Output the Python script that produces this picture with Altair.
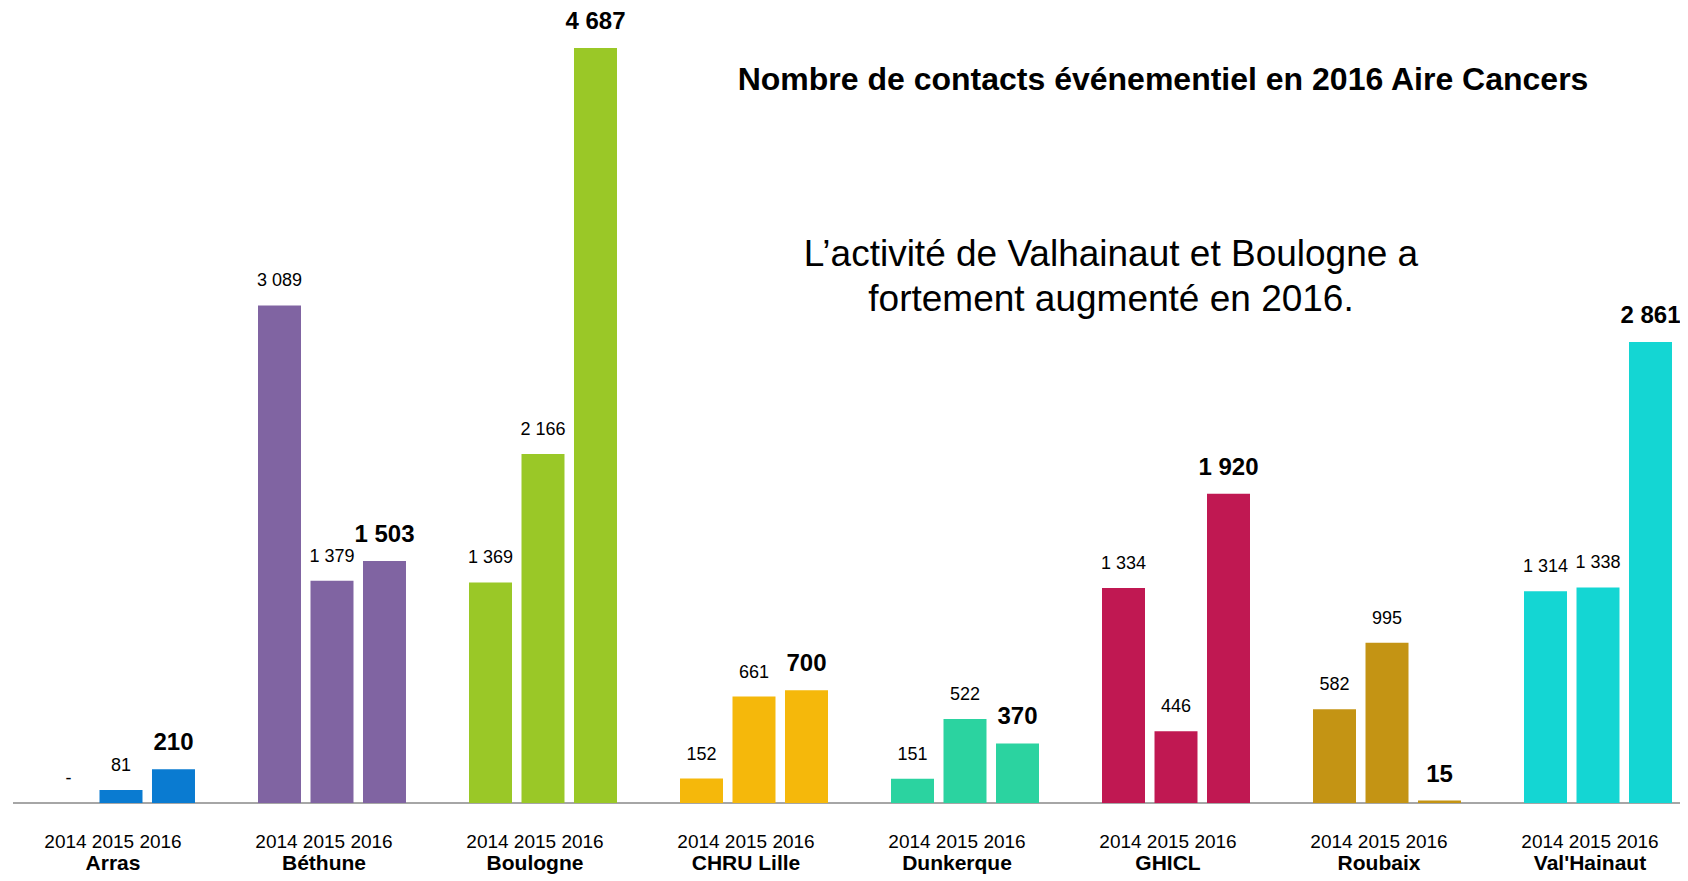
import altair as alt
import pandas as pd

groups = ["Arras", "Béthune", "Boulogne", "CHRU Lille", "Dunkerque", "GHICL", "Roubaix", "Val'Hainaut"]
years = ["2014", "2015", "2016"]
v2014 = [0, 3089, 1369, 152, 151, 1334, 582, 1314]
v2015 = [81, 1379, 2166, 661, 522, 446, 995, 1338]
v2016 = [210, 1503, 4687, 700, 370, 1920, 15, 2861]
colors = ["#0A7BD1", "#8064A2", "#9AC827", "#F5B80B", "#2BD3A0", "#C01852", "#C49414", "#14D6D3"]

title_text = "Nombre de contacts événementiel en 2016 Aire Cancers"
note_lines = ["L\u2019activité de Valhainaut et Boulogne a", "fortement augmenté en 2016."]

FONT = "Liberation Sans, Arial, Helvetica, sans-serif"

rows = []
for i, g in enumerate(groups):
    for y, vals in zip(years, [v2014, v2015, v2016]):
        v = vals[i]
        lab = "-" if (v == 0 and y == "2014") else f"{v:,}".replace(",", " ")
        rows.append({"group": g, "year": y, "value": v, "label": lab})
df = pd.DataFrame(rows)
gdf = pd.DataFrame({"group": groups, "yrs": ["2014 2015 2016"] * len(groups)})

W, H = 1672, 795
xscale = alt.Scale(domain=groups, range=[34.25, 1668.75], paddingInner=0.2536, paddingOuter=0)
xoff = alt.Scale(domain=years, paddingInner=0.181, paddingOuter=0.0905)
yscale = alt.Scale(domain=[0, 4935], nice=False, zero=True)

x_enc = alt.X("group:N", scale=xscale, axis=None, sort=groups)
xo_enc = alt.XOffset("year:N", scale=xoff, sort=years)
y_enc = alt.Y("value:Q", scale=yscale, axis=None)

base = alt.Chart(df)

rule = alt.Chart(pd.DataFrame({"z": [0]})).mark_rule(color="#a6a6a6", strokeWidth=2).encode(
    x=alt.value(5), x2=alt.value(W), y=alt.Y("z:Q", scale=yscale, axis=None)
)

bars = base.mark_bar().encode(
    x=x_enc, xOffset=xo_enc, y=y_enc,
    color=alt.Color("group:N", scale=alt.Scale(domain=groups, range=colors), legend=None),
)

lab_norm = base.transform_filter(alt.datum.year != "2016").mark_text(
    font=FONT, fontSize=18, color="#000", baseline="middle", dy=-24
).encode(x=x_enc, xOffset=xo_enc, y=y_enc, text="label:N")

lab_bold = base.transform_filter(alt.datum.year == "2016").mark_text(
    font=FONT, fontSize=24, fontWeight="bold", color="#000", baseline="middle", dy=-26
).encode(x=x_enc, xOffset=xo_enc, y=y_enc, text="label:N")

gbase = alt.Chart(gdf)
yr_labels = gbase.mark_text(font=FONT, fontSize=19, color="#000", baseline="middle", dx=-8).encode(
    x=x_enc, y=alt.value(834), text="yrs:N"
)
name_labels = gbase.mark_text(font=FONT, fontSize=21, fontWeight="bold", color="#000", baseline="alphabetic", dx=-8).encode(
    x=x_enc, y=alt.value(862), text="group:N"
)

title = alt.Chart(pd.DataFrame({"t": [title_text]})).mark_text(
    font=FONT, fontSize=32, fontWeight="bold", color="#000", baseline="middle"
).encode(x=alt.value(1155), y=alt.value(72), text="t:N")

note = alt.Chart(pd.DataFrame({"t": [0]})).mark_text(
    font=FONT, fontSize=37, color="#000", baseline="middle", lineHeight=45
).encode(x=alt.value(1103), y=alt.value(247), text=alt.value(note_lines))

chart = alt.layer(rule, bars, lab_norm, lab_bold, yr_labels, name_labels, title, note).properties(
    width=W, height=H,
    autosize=alt.AutoSizeParams(type="none"),
    padding={"left": 0, "right": 0, "top": 0, "bottom": 73},
).configure_view(stroke=None)

chart.save("out.html", embed_options={"renderer": "svg", "actions": False})
